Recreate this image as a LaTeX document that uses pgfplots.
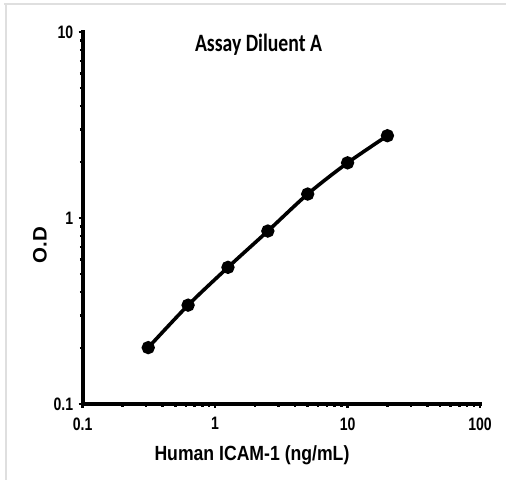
\documentclass[border=0pt]{standalone}
\usepackage{pgfplots}
\pgfplotsset{compat=1.18}
\usepackage{graphicx}
\usepackage{fontspec}
\setmainfont{Liberation Sans}
\newfontfamily\titlefont{Carlito}
\newcommand{\sq}[1]{\scalebox{0.78}[1]{#1}}
\begin{document}
\begin{tikzpicture}
\begin{axis}[
  at={(82.7pt,76pt)}, anchor=south west,
  scale only axis, width=397.3pt, height=372pt,
  xmode=log, ymode=log,
  xmin=0.1, xmax=100, ymin=0.1, ymax=10,
  axis x line=bottom, axis y line=left,
  axis line style={-, line width=4pt, line cap=rect},
  xtick={0.1,1,10,100}, xticklabels={\sq{0.1},\sq{1},\sq{10},\sq{100}},
  ytick={0.1,1,10}, yticklabels={\sq{0.1},\sq{1},\sq{10}},
  minor tick num=0, minor xtick={}, minor ytick={},
  tick align=outside, major tick length=4pt,
  tick style={line width=2.5pt, black},
  xticklabel style={font=\bfseries\fontsize{18}{18}\selectfont, yshift=-6pt},
  yticklabel style={font=\bfseries\fontsize{18}{18}\selectfont, xshift=-2pt},
  xlabel={\scalebox{0.86}[1]{Human ICAM-1 (ng/mL)}},
  ylabel={\scalebox{1}[0.95]{O.D}},
  label style={font=\bfseries\fontsize{20.5}{20.5}\selectfont},
  xlabel style={at={(axis description cs:0.426,0)}, anchor=center, yshift=-51pt},
  ylabel style={at={(axis description cs:-0.1075,0.427)}, anchor=center},
  clip=false,
]
\addplot[black, line width=3.6pt, smooth, tension=0.5, mark=*, mark size=4.8pt, mark options={solid, fill=black}]
coordinates {
(0.3125,0.201) (0.625,0.340) (1.25,0.543) (2.5,0.851) (5,1.345) (10,1.98) (20,2.77)
};
\node[anchor=center] at (axis description cs:0.4425,0.965)
  {\resizebox{127pt}{17.5pt}{\titlefont\bfseries Assay Diluent A}};
\end{axis}
\draw[line width=2pt, gray!25] (4pt,475.5pt) -- (506pt,475.5pt);
\draw[line width=2pt, gray!25] (6pt,476.5pt) -- (6pt,0pt);
\pgfresetboundingbox
\path[use as bounding box] (0,0) rectangle (506pt,480pt);
\end{tikzpicture}
\end{document}
